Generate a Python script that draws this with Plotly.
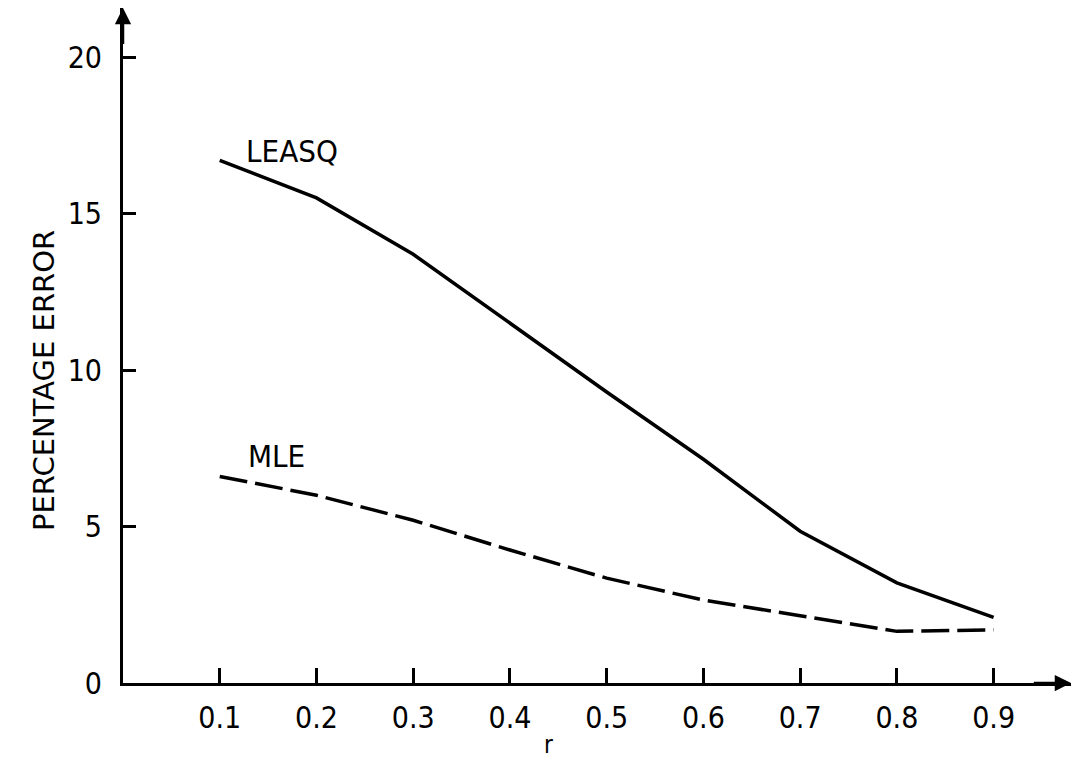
import plotly.graph_objects as go

# Correlation r and percentage error of the two estimators
r_values = [0.1, 0.2, 0.3, 0.4, 0.5, 0.6, 0.7, 0.8, 0.9]
leasq_error = [16.7, 15.5, 13.7, 11.5, 9.3, 7.15, 4.85, 3.2, 2.1]
mle_error = [6.6, 6.0, 5.2, 4.25, 3.35, 2.65, 2.15, 1.65, 1.7]

x_ticks = [0.1, 0.2, 0.3, 0.4, 0.5, 0.6, 0.7, 0.8, 0.9]
x_tick_text = ["0.1", "0.2", "0.3", "0.4", "0.5", "0.6", "0.7", "0.8", "0.9"]
y_ticks = [0, 5, 10, 15, 20]
y_tick_text = ["0", "5", "10", "15", "20"]

FONT = "DejaVu Sans Condensed, DejaVu Sans, sans-serif"
WIDE_FONT = "DejaVu Sans, sans-serif"
X_MAX = 0.98
Y_MAX = 21.57

fig = go.Figure()

fig.add_trace(go.Scatter(
    x=r_values, y=leasq_error, mode="lines", name="LEASQ",
    line=dict(color="black", width=3.5),
))
fig.add_trace(go.Scatter(
    x=r_values, y=mle_error, mode="lines", name="MLE",
    line=dict(color="black", width=3.5, dash="28px,8px"),
))

annotations = [
    dict(x=0.175, y=17.0, text="LEASQ", showarrow=False,
         font=dict(size=31, color="black", family=FONT)),
    dict(x=0.159, y=7.25, text="MLE", showarrow=False,
         font=dict(size=31, color="black", family=FONT)),
    # axis title for r
    dict(x=0.44, y=0, text="r", showarrow=False, yshift=-62,
         font=dict(size=24, color="black", family=FONT)),
    # vertical axis title
    dict(xref="paper", x=0, y=9.65, text="PERCENTAGE ERROR", showarrow=False,
         textangle=-90, xshift=-98,
         font=dict(size=29, color="black", family=WIDE_FONT)),
    # arrowheads on the axes
    dict(x=X_MAX, y=0, ax=X_MAX - 0.04, ay=0, xref="x", yref="y",
         axref="x", ayref="y", showarrow=True, arrowhead=2, arrowsize=1.3,
         arrowwidth=2.5, arrowcolor="black", text=""),
    dict(x=0, y=Y_MAX, ax=0, ay=Y_MAX - 1.2, xref="x", yref="y",
         axref="x", ayref="y", showarrow=True, arrowhead=2, arrowsize=1.3,
         arrowwidth=2.5, arrowcolor="black", text=""),
]

fig.update_layout(
    width=1072, height=760,
    margin=dict(l=123, r=1, t=8, b=77),
    paper_bgcolor="white", plot_bgcolor="white",
    showlegend=False,
    font=dict(family=FONT, size=30, color="black"),
    annotations=annotations,
)

fig.update_xaxes(
    range=[0, X_MAX], showgrid=False, zeroline=False,
    showline=True, linecolor="black", linewidth=3,
    ticks="inside", ticklen=15, tickwidth=2.5, tickcolor="black",
    tickvals=x_ticks, ticktext=x_tick_text, ticklabelstandoff=6,
    tickfont=dict(size=30, family=FONT, color="black"),
)
fig.update_yaxes(
    range=[0, Y_MAX], showgrid=False, zeroline=False,
    showline=True, linecolor="black", linewidth=3,
    ticks="inside", ticklen=13, tickwidth=2.5, tickcolor="black",
    tickvals=y_ticks, ticktext=y_tick_text, ticklabelstandoff=12,
    tickfont=dict(size=30, family=FONT, color="black"),
)

fig.write_html("out.html")
